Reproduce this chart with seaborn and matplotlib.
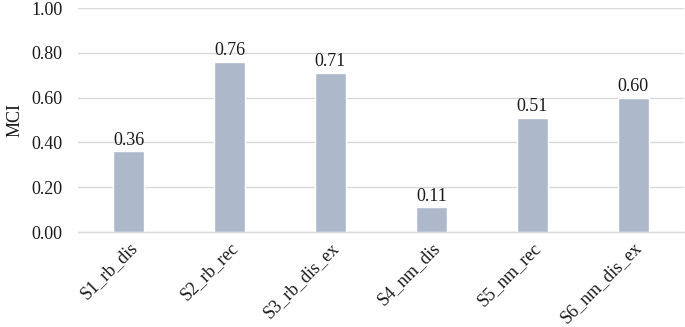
import matplotlib
matplotlib.use("Agg")
import matplotlib.pyplot as plt
import seaborn as sns
import pandas as pd

categories = ["S1_rb_dis", "S2_rb_rec", "S3_rb_dis_ex", "S4_nm_dis", "S5_nm_rec", "S6_nm_dis_ex"]
values = [0.36, 0.76, 0.71, 0.11, 0.51, 0.60]
yticks = [0.0, 0.2, 0.4, 0.6, 0.8, 1.0]

sns.set_theme(style="white")
plt.rcParams['font.family'] = ['Liberation Serif', 'DejaVu Serif']
plt.rcParams['text.color'] = '#1a1a1a'
plt.rcParams['xtick.color'] = '#1a1a1a'
plt.rcParams['ytick.color'] = '#1a1a1a'
plt.rcParams['axes.labelcolor'] = '#1a1a1a'

FS = 13

df = pd.DataFrame({"cat": categories, "MCI": values})

fig = plt.figure(figsize=(6.85, 3.27), dpi=100)
ax = fig.add_axes([0.114, 0.2905, 0.884, 0.685])
sns.barplot(data=df, x="cat", y="MCI", color="#ADB9CA", saturation=1, width=0.31, ax=ax, zorder=3)
ax.set_ylim(0, 1.0)
ax.set_xlim(-0.5, len(categories) - 0.5)
ax.set_yticks(yticks)
ax.set_yticklabels([f"{t:.2f}" for t in yticks], fontsize=FS)
ax.yaxis.grid(True, color="#D9D9D9", linewidth=1, zorder=0)
ax.set_axisbelow(True)
for s in ["top", "right", "left"]:
    ax.spines[s].set_visible(False)
ax.spines["bottom"].set_color("#D9D9D9")
ax.spines["bottom"].set_linewidth(1)
ax.tick_params(axis="y", length=0, pad=11, labelsize=FS)
ax.tick_params(axis="x", length=0, pad=5, labelsize=FS)
ax.set_xticks(range(len(categories)))
ax.set_xticklabels(categories, rotation=45, ha="right", rotation_mode="anchor", fontsize=FS)
ax.set_xlabel("")
ax.set_ylabel("MCI", fontsize=FS, labelpad=6)
for i, v in enumerate(values):
    ax.text(i, v + 0.012, f"{v:.2f}", ha="center", va="bottom", fontsize=FS)
fig.savefig("out.png", dpi=100)
